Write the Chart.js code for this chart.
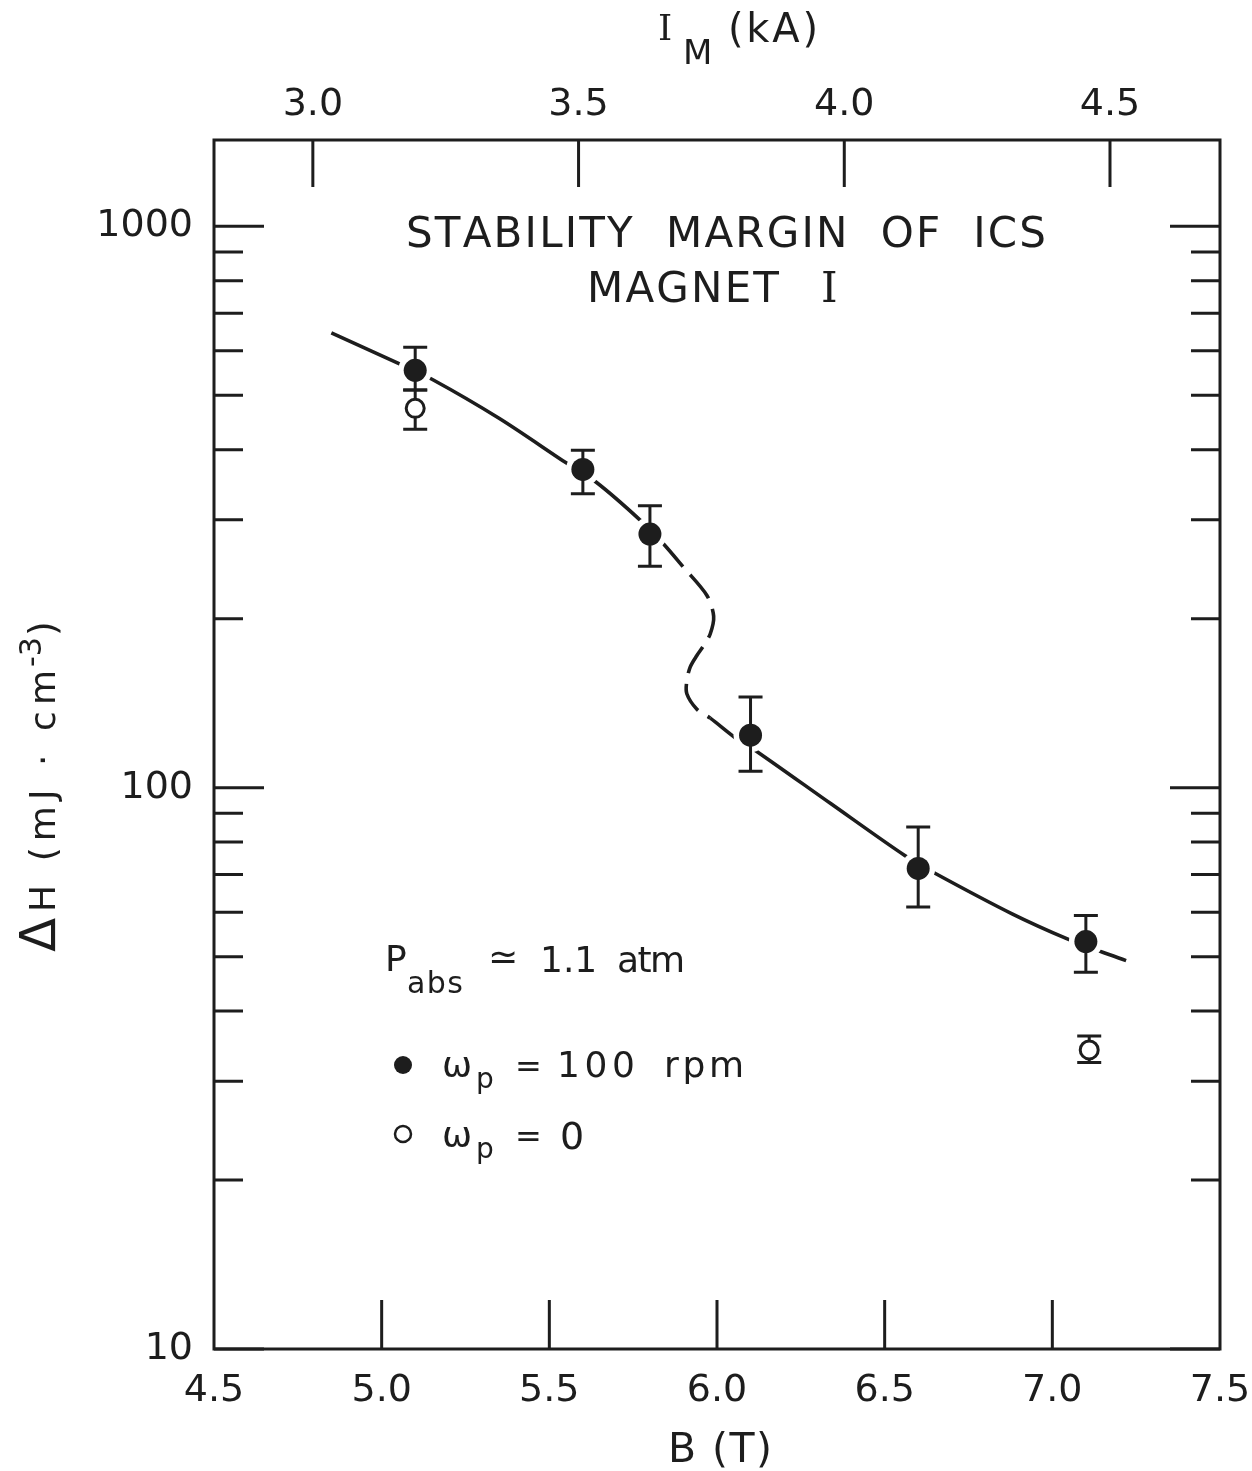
<!DOCTYPE html>
<html>
<head>
<meta charset="utf-8">
<title>Stability margin of ICS magnet I</title>
<script src="https://cdn.jsdelivr.net/npm/chart.js@4.4.1/dist/chart.umd.min.js"></script>
<style>
  html, body { margin: 0; padding: 0; background: #fff; }
  #wrap { width: 1252px; height: 1471px; }
</style>
</head>
<body>
<div id="wrap"><canvas id="margem" width="1252" height="1471"></canvas></div>
<script>
// pontos cheios: omega_p = 100 rpm
const bSpin = [5.10, 5.60, 5.80, 6.10, 6.60, 7.10];
const dhSpin = [554, 369, 283, 124, 71.8, 53.2];
const dhSpinHi = [609, 399, 318, 145, 85.1, 59.2];
const dhSpinLo = [511, 334, 248, 107, 61.3, 46.9];

// pontos abertos: omega_p = 0
const bStill = [5.10, 7.11];
const dhStill = [474, 34.1];
const dhStillHi = [511, 36.1];
const dhStillLo = [435, 32.4];

// curva ajustada (o trecho em S e tracejado)
const curveB = [4.85, 5.05, 5.15, 5.35, 5.55, 5.64, 5.77, 5.84, 5.90, 5.97, 5.99, 5.98, 5.96, 5.94,
                5.92, 5.91, 5.91, 5.94, 5.98, 6.06, 6.11, 6.34, 6.56, 6.65, 6.88, 7.05, 7.15, 7.22];
const curveDH = [646, 570, 534, 455, 379, 350, 300, 272, 247, 220, 202, 188, 179, 172,
                 164, 155, 147, 138, 133, 122, 117, 93.6, 75.7, 70.4, 59.6, 53.6, 50.9, 49.2];
const dashFrom = 7;
const dashTo = 18;

// eixos
const bRange = [4.5, 7.5];
const bTicks = [4.5, 5.0, 5.5, 6.0, 6.5, 7.0, 7.5];
const imRange = [2.814, 4.707];
const imTicks = [3.0, 3.5, 4.0, 4.5];
const dhRange = [10, 1425];
const dhTicks = [10, 20, 30, 40, 50, 60, 70, 80, 90, 100, 200, 300, 400, 500, 600, 700, 800, 900, 1000];
const dhLabels = [10, 100, 1000];

const INK = '#1d1d1d';
const FONT = '"DejaVu Sans", sans-serif';
const SERIF = '"DejaVu Serif", serif';

function escreve(ctx, txt, x, y, size, width, family) {
    ctx.font = size + 'px ' + (family || FONT);
    const chars = Array.from(txt);
    if (!width || chars.length < 2) {
        ctx.fillText(txt, x, y);
        return;
    }
    const natural = chars.reduce((w, c) => w + ctx.measureText(c).width, 0);
    const gap = (width - natural) / (chars.length - 1);
    let cx = x;
    chars.forEach(c => {
        ctx.fillText(c, cx, y);
        cx += ctx.measureText(c).width + gap;
    });
}

function barra(ctx, x, y1, y2) {
    ctx.beginPath();
    ctx.moveTo(x, y1); ctx.lineTo(x, y2);
    ctx.moveTo(x - 12, y1); ctx.lineTo(x + 12, y1);
    ctx.moveTo(x - 12, y2); ctx.lineTo(x + 12, y2);
    ctx.stroke();
}

const moldura = {
    id: 'moldura',
    beforeDatasetDraw(chart, args) {
        if (args.index !== 1) return;
        const { ctx, scales: { x, y } } = chart;
        ctx.save();
        ctx.strokeStyle = INK;
        ctx.lineWidth = 3;
        bSpin.forEach((b, i) => {
            barra(ctx, x.getPixelForValue(b), y.getPixelForValue(dhSpinHi[i]), y.getPixelForValue(dhSpinLo[i]));
        });
        bStill.forEach((b, i) => {
            barra(ctx, x.getPixelForValue(b), y.getPixelForValue(dhStillHi[i]), y.getPixelForValue(dhStillLo[i]));
        });
        ctx.restore();
    },
    afterDraw(chart) {
        const { ctx, chartArea: a, scales } = chart;
        ctx.save();
        ctx.strokeStyle = INK;
        ctx.fillStyle = INK;
        ctx.lineWidth = 3;
        ctx.strokeRect(a.left, a.top, a.right - a.left, a.bottom - a.top);

        // marcas para dentro
        ctx.beginPath();
        dhTicks.forEach(v => {
            const py = scales.y.getPixelForValue(v);
            const len = dhLabels.includes(v) ? 50 : 29;
            ctx.moveTo(a.left, py); ctx.lineTo(a.left + len, py);
            ctx.moveTo(a.right, py); ctx.lineTo(a.right - len, py);
        });
        bTicks.slice(1, -1).forEach(v => {
            const px = scales.x.getPixelForValue(v);
            ctx.moveTo(px, a.bottom); ctx.lineTo(px, a.bottom - 49);
        });
        imTicks.forEach(v => {
            const px = scales.x2.getPixelForValue(v);
            ctx.moveTo(px, a.top); ctx.lineTo(px, a.top + 47);
        });
        ctx.stroke();

        ctx.textAlign = 'left';
        ctx.textBaseline = 'alphabetic';

        // titulo
        escreve(ctx, 'STABILITY  MARGIN  OF  ICS', 406, 247, 42, 640);
        escreve(ctx, 'MAGNET', 587, 302, 42, 192);
        escreve(ctx, 'I', 821, 302, 42, 0, SERIF);

        // eixo de cima
        escreve(ctx, 'I', 658, 40, 36, 0, SERIF);
        escreve(ctx, 'M', 683, 64, 34);
        escreve(ctx, '(kA)', 728, 42, 40, 90);

        // eixo de baixo
        escreve(ctx, 'B (T)', 668, 1462, 41, 104);

        // eixo vertical
        ctx.save();
        ctx.translate(55, 952);
        ctx.rotate(-Math.PI / 2);
        escreve(ctx, '\u0394', 0, 0, 50);
        escreve(ctx, 'H (mJ \u00b7 cm', 40, 0, 36, 242);
        escreve(ctx, '-3', 285, -14, 30);
        escreve(ctx, ')', 316, 0, 38);
        ctx.restore();

        // legenda
        escreve(ctx, 'P', 385, 971, 36);
        escreve(ctx, 'abs', 407, 993, 30, 56);
        escreve(ctx, '\u2243', 488, 969, 36);
        escreve(ctx, '1.1', 540, 972, 36);
        escreve(ctx, 'atm', 617, 972, 36, 68);

        ctx.beginPath();
        ctx.arc(403, 1065, 9, 0, Math.PI * 2);
        ctx.fill();
        escreve(ctx, '\u03c9', 442, 1077, 36);
        escreve(ctx, 'p', 476, 1088, 28);
        escreve(ctx, '=', 515, 1077, 32);
        escreve(ctx, '100', 557, 1077, 36, 78);
        escreve(ctx, 'rpm', 664, 1077, 36, 80);

        ctx.lineWidth = 2.5;
        ctx.beginPath();
        ctx.arc(403, 1134, 8, 0, Math.PI * 2);
        ctx.stroke();
        escreve(ctx, '\u03c9', 442, 1147, 36);
        escreve(ctx, 'p', 476, 1158, 28);
        escreve(ctx, '=', 515, 1147, 32);
        escreve(ctx, '0', 560, 1149, 38);

        ctx.restore();
    }
};

const spinPts = bSpin.map((b, i) => ({ x: b, y: dhSpin[i] }));
const stillPts = bStill.map((b, i) => ({ x: b, y: dhStill[i] }));
const curvePts = curveB.map((b, i) => ({ x: b, y: curveDH[i] }));

const tickFont = { family: FONT, size: 38 };

// larguras fixas para que a area do grafico caia onde esta no original
function fixaAltura(h) {
    return s => { s.height = h; s.paddingLeft = 0; s.paddingRight = 0; };
}

new Chart(document.getElementById('margem'), {
    type: 'scatter',
    data: {
        datasets: [
            {
                label: '\u03c9p = 0',
                data: stillPts,
                pointRadius: 9,
                pointBorderWidth: 3,
                pointBackgroundColor: '#fff',
                pointBorderColor: INK
            },
            {
                label: '\u03c9p = 100 rpm',
                data: spinPts,
                pointRadius: 11.5,
                pointBorderWidth: 0,
                pointBackgroundColor: INK
            },
            {
                label: 'halo',
                data: spinPts,
                pointRadius: 17,
                pointBorderWidth: 0,
                pointBackgroundColor: '#fff'
            },
            {
                label: 'curva',
                data: curvePts,
                showLine: true,
                pointRadius: 0,
                borderColor: INK,
                borderWidth: 3.6,
                tension: 0.3,
                segment: {
                    borderDash: c => (c.p0DataIndex >= dashFrom && c.p0DataIndex < dashTo) ? [30, 11] : undefined
                }
            }
        ]
    },
    options: {
        responsive: false,
        animation: false,
        devicePixelRatio: 1,
        events: [],
        layout: { padding: { right: 32 } },
        plugins: {
            legend: { display: false },
            tooltip: { enabled: false }
        },
        scales: {
            x: {
                type: 'linear',
                position: 'bottom',
                min: bRange[0],
                max: bRange[1],
                grid: { display: false },
                border: { display: false },
                afterBuildTicks: s => { s.ticks = bTicks.map(v => ({ value: v })); },
                afterFit: fixaAltura(122),
                ticks: {
                    padding: 11,
                    autoSkip: false,
                    maxRotation: 0,
                    color: INK,
                    font: tickFont,
                    callback: v => v.toFixed(1)
                }
            },
            x2: {
                type: 'linear',
                position: 'top',
                min: imRange[0],
                max: imRange[1],
                grid: { display: false },
                border: { display: false },
                afterBuildTicks: s => { s.ticks = imTicks.map(v => ({ value: v })); },
                afterFit: fixaAltura(140),
                ticks: {
                    padding: 4,
                    autoSkip: false,
                    maxRotation: 0,
                    color: INK,
                    font: tickFont,
                    callback: v => v.toFixed(1)
                }
            },
            y: {
                type: 'logarithmic',
                position: 'left',
                min: dhRange[0],
                max: dhRange[1],
                grid: { display: false },
                border: { display: false },
                afterBuildTicks: s => { s.ticks = dhTicks.map(v => ({ value: v })); },
                afterFit: s => { s.width = 214; s.paddingTop = 0; s.paddingBottom = 0; },
                ticks: {
                    padding: 13,
                    autoSkip: false,
                    color: INK,
                    font: tickFont,
                    callback: v => dhLabels.includes(v) ? String(v) : ''
                }
            }
        }
    },
    plugins: [moldura]
});
</script>
</body>
</html>
